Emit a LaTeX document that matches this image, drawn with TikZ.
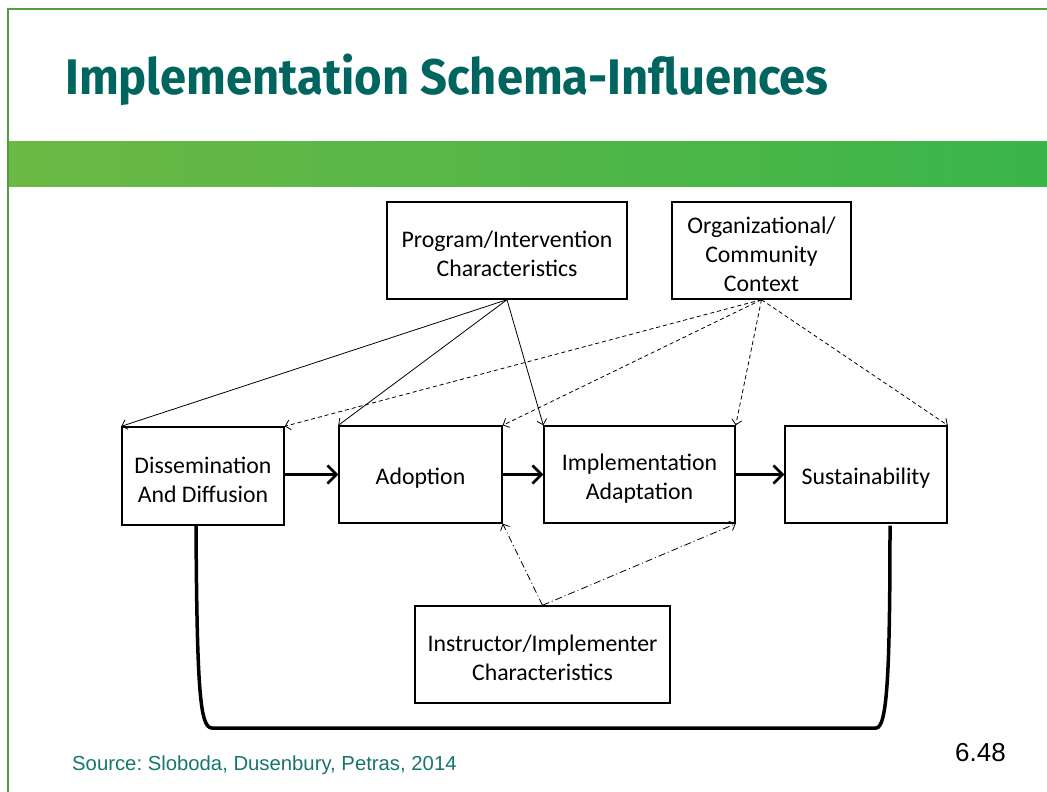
\documentclass[tikz,border=0pt]{standalone}
\usepackage{fontspec}
\setmainfont{Carlito}
\newfontfamily\titlefont{Fira Sans}
\newfontfamily\arialfont{Liberation Sans}
\usetikzlibrary{arrows.meta}
\definecolor{titleteal}{HTML}{00655F}
\definecolor{sourceteal}{HTML}{17756F}
\definecolor{framegreen}{HTML}{4EA041}
\definecolor{bandleft}{HTML}{6CB845}
\definecolor{bandright}{HTML}{3AB54A}
\newcommand{\topstrut}{\rule{0pt}{24pt}}
\frenchspacing
\begin{document}
\begin{tikzpicture}[x=1pt, y=-1pt,
    box/.style={draw, line width=1.4pt, align=center, inner sep=0pt,
                font=\fontsize{23.8}{29}\selectfont},
    flow/.style={-{Straight Barb[length=9pt,width=18pt,line width=2.6pt]}, line width=3.6pt},
    progarrow/.style={-{Straight Barb[length=5pt,width=10pt]}, line width=0.8pt},
    orgarrow/.style={progarrow, dash pattern=on 4pt off 3pt},
    instrarrow/.style={progarrow, dash pattern=on 7pt off 3pt on 1pt off 3pt}]
  \useasboundingbox (0,0) rectangle (1047,792);
  % slide frame and banner
  \draw[framegreen, line width=2pt] (8,792) -- (8,9) -- (1047,9);
  \shade[left color=bandleft, right color=bandright] (9,141) rectangle (1047,186);
  \node[anchor=base west, inner sep=0pt, text=titleteal,
        font=\titlefont\bfseries\fontsize{50}{60}\selectfont] (title) at (65,95)
    {\scalebox{0.942}[1]{Implementation Schema-Influences}};

  % boxes
  \node[box, minimum width=240pt, minimum height=97pt] (prog) at (507,250.5)
    {\topstrut Program/Intervention\\Characteristics};
  \node[box, minimum width=179pt, minimum height=97pt] (org) at (761.5,250.5)
    {\topstrut Organizational/\\Community\\Context};
  \node[box, minimum width=162pt, minimum height=98pt] (diss) at (203,476)
    {\topstrut Dissemination\\And Diffusion};
  \node[box, minimum width=163pt, minimum height=97pt] (adop) at (420.5,474.5)
    {\topstrut Adoption};
  \node[box, minimum width=191pt, minimum height=97pt] (impl) at (639.5,474.5)
    {\topstrut Implementation\\Adaptation};
  \node[box, minimum width=162pt, minimum height=97pt] (sust) at (866,474.5)
    {\topstrut Sustainability};
  \node[box, minimum width=255pt, minimum height=97pt] (instr) at (542.5,654.5)
    {\topstrut Instructor/Implementer\\Characteristics};

  % main sequence
  \draw[flow] (diss.east |- adop.west) -- (adop.west);
  \draw[flow] (adop.east) -- (impl.west);
  \draw[flow] (impl.east) -- (sust.west);

  % influences
  \draw[progarrow] (prog.south) -- (diss.north west);
  \draw[progarrow] (prog.south) -- (adop.north west);
  \draw[progarrow] (prog.south) -- (impl.north west);
  \foreach \t in {diss, adop, impl, sust}
    \draw[orgarrow] (org.south) -- (\t.north east);
  \draw[instrarrow] (instr.north) -- (adop.south east);
  \draw[instrarrow] (instr.north) -- (impl.south east);

  % feedback loop
  \draw[line width=3.5pt]
    ([xshift=-7pt]diss.south) .. controls +(1,165) and +(-12,0) .. (212,728)
    -- (876,728) .. controls +(11,0) and +(0,150) .. ([xshift=24pt,yshift=-2pt]sust.south);

  % footer
  \node[anchor=base west, inner sep=0pt, text=sourceteal,
        font=\arialfont\fontsize{20.3}{24}\selectfont] (source) at (72,770)
    {Source: Sloboda, Dusenbury, Petras, 2014};
  \node[anchor=base west, inner sep=0pt,
        font=\arialfont\fontsize{26}{30}\selectfont] (slideno) at (955,761) {6.48};
\end{tikzpicture}
\end{document}
